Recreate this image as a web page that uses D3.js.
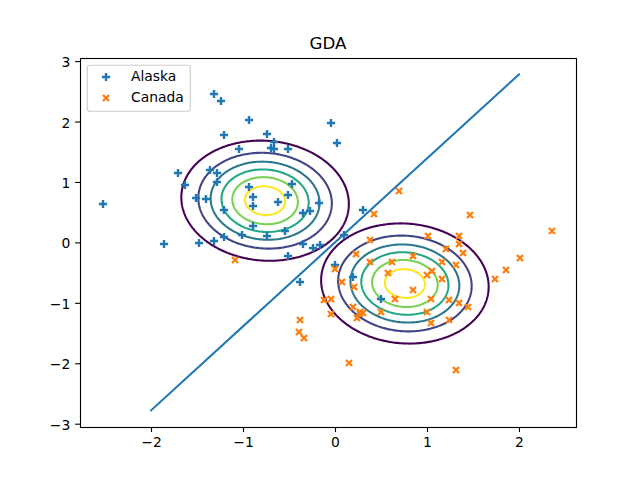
<!DOCTYPE html>
<html>
<head>
<meta charset="utf-8">
<script src="https://cdn.jsdelivr.net/npm/d3@7"></script>
<style>
html,body{margin:0;padding:0;background:#fff}
svg{display:block}
text{font-family:"DejaVu Sans",sans-serif}
</style>
</head>
<body>
<svg id="c" width="640" height="480"></svg>
<script>
const alaskaX=[-1.315,-1.239,-.935,-1.21,-.739,-.043,.022,-.667,-.696,-.66,-1.043,-.511,-1.71,-1.362,-1.283,-1.286,-1.63,-.935,-.467,-1.514,-1.402,-.891,-.511,-.62,-.891,-2.525,-1.21,-.17,-.272,-.348,-.891,-.543,-1.008,-.739,-1.21,-1.315,-1.478,-1.859,-.348,-.163,-.239,-.511,0,.101,.304,.192,.497,-.38];
const alaskaY=[2.46,2.345,2.03,1.777,1.8,1.976,1.645,1.66,1.567,1.55,1.55,1.55,1.148,1.198,1.148,1.0,.95,.92,.961,.735,.723,.756,.784,.669,.607,.64,.536,.652,.52,.482,.276,.194,.127,.106,.089,.028,-.01,-.026,-.026,-.038,-.093,-.225,-.369,.122,.536,-.573,-.932,-.655];
const canadaX=[.699,.427,1.471,2.362,1.008,1.351,.384,1.351,1.203,1.395,.232,.851,2.014,.384,.623,1.166,1.318,.004,1.051,.579,1.003,1.862,1.166,1.742,.079,.207,.851,.655,1.047,1.242,1.351,1.442,-.116,-.04,.199,.503,1.003,.272,.304,.275,-.04,.236,1.047,1.242,-.38,-.391,-.34,.155,1.318,-1.087];
const canadaY=[.856,.465,.448,.184,.106,.101,.035,-.031,-.114,-.18,-.197,-.23,-.263,-.324,-.329,-.329,-.379,-.435,-.468,-.506,-.544,-.462,-.601,-.606,-.65,-.743,-.793,-.942,-.937,-.958,-1.008,-1.069,-.958,-.942,-1.069,-1.157,-1.157,-1.152,-1.168,-1.185,-1.19,-1.246,-1.339,-1.289,-1.289,-1.488,-1.587,-2.0,-2.117,-.298];
const boundaryX=[-2,2];
const boundaryY=[-2.78,2.78];
const xTicks=[-2,-1,0,1,2];
const yTicks=[-3,-2,-1,0,1,2,3];
const xDomain=[-2.772,2.62];
const yDomain=[-3.058,3.058];
const means=[[-.76,.69],[.76,-.68]];
const covariance=[.218,-.013,.26];
const levels=[.1,.2,.3,.4,.5,.6];
const levelColors=["#440154","#414487","#2a788e","#22a884","#7ad151","#fde725"];
const seriesNames=["Alaska","Canada"];
const seriesColors=["#1f77b4","#ff7f0e"];
const titleText="GDA";

const L=80,R=576,T=57.6,B=427.2,LW=2.08,MW=2.4;
const x=d3.scaleLinear().domain(xDomain).range([L,R]);
const y=d3.scaleLinear().domain(yDomain).range([B,T]);
const svg=d3.select("#c");
svg.append("defs").append("clipPath").attr("id","clip").append("rect")
  .attr("x",L).attr("y",T).attr("width",R-L).attr("height",B-T);
const plot=svg.append("g").attr("clip-path","url(#clip)");

// Gaussian class-conditional density contours
const N=360,G0=-3.2,G1=3.2,step=(G1-G0)/(N-1);
const [a,b,d]=covariance, det=a*d-b*b;
const norm=1/(2*Math.PI*Math.sqrt(det));
const proj=d3.geoTransform({point(px,py){
  this.stream.point(x(G0+(px-.5)*step),y(G0+(py-.5)*step));
}});
const gp=d3.geoPath(proj);
means.forEach(m=>{
  const vals=new Float64Array(N*N);
  for(let j=0;j<N;j++)for(let i=0;i<N;i++){
    const u=G0+i*step-m[0],v=G0+j*step-m[1];
    vals[j*N+i]=norm*Math.exp(-.5*(d*u*u-2*b*u*v+a*v*v)/det);
  }
  const cs=d3.contours().size([N,N]).thresholds(levels)(vals);
  plot.append("g").selectAll("path").data(cs).join("path")
    .attr("d",gp).attr("fill","none")
    .attr("stroke",(c,i)=>levelColors[i]).attr("stroke-width",LW);
});

// markers
const hP=4.1,hX=3;
const plusPath=`M${-hP},0H${hP}M0,${-hP}V${hP}`;
const crossPath=`M${-hX},${-hX}L${hX},${hX}M${-hX},${hX}L${hX},${-hX}`;
const mark=(sel,xs,ys,p,c)=>sel.append("g").selectAll("path").data(xs).join("path")
  .attr("d",p).attr("fill","none").attr("stroke",c).attr("stroke-width",MW)
  .attr("transform",(v,i)=>`translate(${Math.round(x(v))},${Math.round(y(ys[i]))})`);
mark(plot,alaskaX,alaskaY,plusPath,seriesColors[0]);
mark(plot,canadaX,canadaY,crossPath,seriesColors[1]);

// decision boundary
plot.append("path").datum(boundaryX.map((v,i)=>[v,boundaryY[i]]))
  .attr("d",d3.line().x(p=>x(p[0])).y(p=>y(p[1])))
  .attr("fill","none").attr("stroke",seriesColors[0]).attr("stroke-width",LW).attr("stroke-linecap","square");

// axes
const TS=4.86,TP=4.86;
const xa=svg.append("g").attr("transform",`translate(0,${B})`)
  .call(d3.axisBottom(x).tickValues(xTicks).tickSize(TS).tickPadding(TP).tickFormat(d3.format("d")));
const ya=svg.append("g").attr("transform",`translate(${L},0)`)
  .call(d3.axisLeft(y).tickValues(yTicks).tickSize(TS).tickPadding(TP).tickFormat(d3.format("d")));
[xa,ya].forEach(g=>{
  g.select(".domain").remove();
  g.selectAll("line").attr("stroke","#000").attr("stroke-width",1.11);
  g.selectAll("text").attr("font-size",13.89).attr("font-family","DejaVu Sans").attr("fill","#000");
});
ya.selectAll("text").attr("dy","0.4em");
svg.append("rect").attr("x",80.5).attr("y",58.5).attr("width",496).attr("height",369)
  .attr("fill","none").attr("stroke","#000").attr("stroke-width",1.11);

svg.append("text").attr("x",(L+R)/2).attr("y",49.3).attr("text-anchor","middle")
  .attr("font-size",16.67).attr("fill","#000").text(titleText);

// legend
const lg=svg.append("g");
lg.append("rect").attr("x",87.3).attr("y",65.3).attr("width",103).attr("height",46).attr("rx",2.8)
  .attr("fill","#fff").attr("fill-opacity",.8).attr("stroke","#ccc").attr("stroke-width",1.11);
[plusPath,crossPath].forEach((p,i)=>{
  lg.append("path").attr("d",p).attr("fill","none").attr("stroke",seriesColors[i]).attr("stroke-width",MW)
    .attr("transform",`translate(106,${77+i*21})`);
  lg.append("text").attr("x",131).attr("y",80.7+i*21).attr("font-size",13.89).attr("fill","#000").text(seriesNames[i]);
});
</script>
</body>
</html>
